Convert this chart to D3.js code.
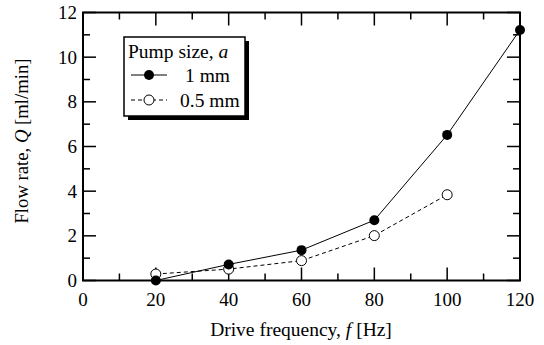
<!DOCTYPE html>
<html><head><meta charset="utf-8">
<script src="https://cdn.jsdelivr.net/npm/d3@7"></script>
<style>body{margin:0;background:#fff}svg{display:block}</style>
</head><body><svg id="c" width="544" height="345" font-family="'Liberation Serif', 'Times New Roman', Times, serif"></svg>
<script>
const freq = [20, 40, 60, 80, 100, 120];
const q1mm = [0, 0.72, 1.36, 2.7, 6.52, 11.22];
const freqHalf = [20, 40, 60, 80, 100];
const qHalf = [0.29, 0.51, 0.89, 2.01, 3.84];
const xTicks = [0, 20, 40, 60, 80, 100, 120];
const yTicks = [0, 2, 4, 6, 8, 10, 12];

const svg = d3.select("#c");
const L = 83, R = 520, T = 12.5, B = 280.5;
const x = d3.scaleLinear().domain([0, 120]).range([L, R]);
const y = d3.scaleLinear().domain([0, 12]).range([B, T]);
const fs = 19, lfs = 19.5;

const g = svg.append("g");
const xMinor = d3.range(0, 121, 10), yMinor = d3.range(0, 12.01, 1);
xMinor.forEach(v => {
  const len = (v % 20 === 0) ? 13 : 7;
  g.append("line").attr("x1", x(v)).attr("x2", x(v)).attr("y1", B).attr("y2", B - len).attr("stroke", "#000").attr("stroke-width", 1.5);
  g.append("line").attr("x1", x(v)).attr("x2", x(v)).attr("y1", T).attr("y2", T + len).attr("stroke", "#000").attr("stroke-width", 1.5);
});
yMinor.forEach(v => {
  const len = (v % 2 === 0) ? 13 : 7;
  g.append("line").attr("x1", L).attr("x2", L + len).attr("y1", y(v)).attr("y2", y(v)).attr("stroke", "#000").attr("stroke-width", 1.5);
  g.append("line").attr("x1", R).attr("x2", R - len).attr("y1", y(v)).attr("y2", y(v)).attr("stroke", "#000").attr("stroke-width", 1.5);
});
g.append("rect").attr("x", L).attr("y", T).attr("width", R - L).attr("height", B - T).attr("fill", "none").attr("stroke", "#000").attr("stroke-width", 2);

xTicks.forEach(v => svg.append("text").attr("x", x(v)).attr("y", 306).attr("text-anchor", "middle").attr("font-size", fs).text(v));
yTicks.forEach(v => svg.append("text").attr("x", 77).attr("y", y(v) + 6.5).attr("text-anchor", "end").attr("font-size", fs).text(v));

const xl = svg.append("text").attr("x", 301).attr("y", 336).attr("text-anchor", "middle").attr("font-size", lfs);
xl.append("tspan").text("Drive frequency, ");
xl.append("tspan").attr("font-style", "italic").text("f");
xl.append("tspan").text(" [Hz]");
const yl = svg.append("text").attr("transform", "translate(28,141) rotate(-90)").attr("text-anchor", "middle").attr("font-size", 18.7);
yl.append("tspan").text("Flow rate, ");
yl.append("tspan").attr("font-style", "italic").text("Q");
yl.append("tspan").text(" [ml/min]");

const line = d3.line().x(d => x(d[0])).y(d => y(d[1]));
const d1 = freq.map((f, i) => [f, q1mm[i]]);
const d2 = freqHalf.map((f, i) => [f, qHalf[i]]);
svg.append("path").attr("d", line(d2)).attr("fill", "none").attr("stroke", "#000").attr("stroke-width", 1).attr("stroke-dasharray", "4,3");
svg.append("path").attr("d", line(d1)).attr("fill", "none").attr("stroke", "#000").attr("stroke-width", 1);
svg.selectAll("c2").data(d2).enter().append("circle").attr("cx", d => x(d[0])).attr("cy", d => y(d[1])).attr("r", 5).attr("fill", "#fff").attr("stroke", "#000").attr("stroke-width", 1);
svg.selectAll("c1").data(d1).enter().append("circle").attr("cx", d => x(d[0])).attr("cy", d => y(d[1])).attr("r", 5).attr("fill", "#000");

const lx = 124, ly = 37, lw = 121, lh = 79;
svg.append("rect").attr("x", lx + 4).attr("y", ly + 4).attr("width", lw).attr("height", lh).attr("fill", "#000");
svg.append("rect").attr("x", lx).attr("y", ly).attr("width", lw).attr("height", lh).attr("fill", "#fff").attr("stroke", "#000").attr("stroke-width", 1.5);
const lt = svg.append("text").attr("x", 128).attr("y", 58).attr("font-size", lfs);
lt.append("tspan").text("Pump size, ");
lt.append("tspan").attr("font-style", "italic").text("a");
svg.append("line").attr("x1", 131).attr("x2", 167).attr("y1", 75).attr("y2", 75).attr("stroke", "#000").attr("stroke-width", 1);
svg.append("circle").attr("cx", 149).attr("cy", 75).attr("r", 5).attr("fill", "#000");
svg.append("text").attr("x", 185).attr("y", 81.5).attr("font-size", lfs).text("1 mm");
svg.append("line").attr("x1", 131).attr("x2", 167).attr("y1", 100).attr("y2", 100).attr("stroke", "#000").attr("stroke-width", 1).attr("stroke-dasharray", "4,3");
svg.append("circle").attr("cx", 149).attr("cy", 100).attr("r", 5).attr("fill", "#fff").attr("stroke", "#000");
svg.append("text").attr("x", 180).attr("y", 106.5).attr("font-size", lfs).text("0.5 mm");
</script></body></html>
